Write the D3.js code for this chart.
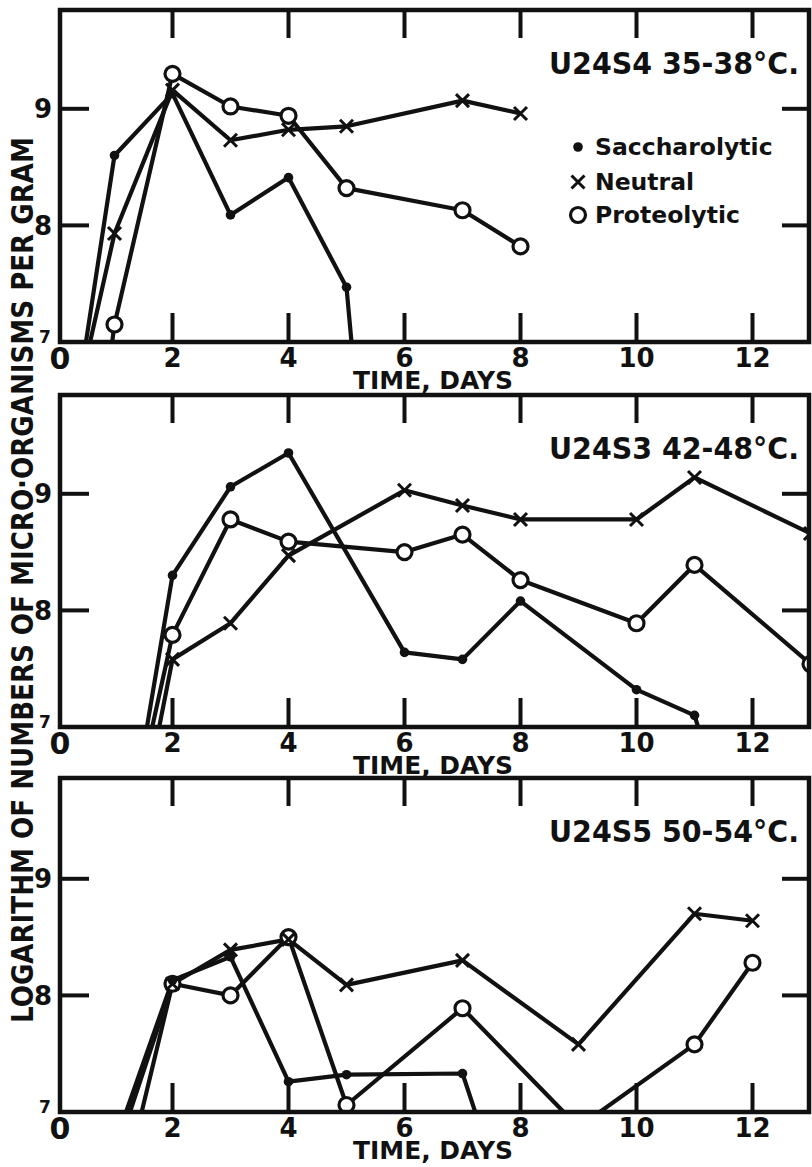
<!DOCTYPE html>
<html><head><meta charset="utf-8">
<script src="https://cdn.jsdelivr.net/npm/d3@7"></script>
<style>body{margin:0;background:#fff}</style>
</head><body>
<svg id="c" width="812" height="1167"></svg>
<script>
// ---- data ----
const panelTitles = ["U24S4 35-38°C.", "U24S3 42-48°C.", "U24S5 50-54°C."];
const seriesNames = ["Saccharolytic", "Neutral", "Proteolytic"];
const xTickValues = [2, 4, 6, 8, 10, 12];
const xLabelValues = [0, 2, 4, 6, 8, 10, 12];
const xLabelTexts = ["0", "2", "4", "6", "8", "10", "12"];
const yTickValues = [8, 9];
const yTickTexts = ["8", "9"];
const yBaseText = "7";
const xTitle = "TIME, DAYS";
const yTitle = "LOGARITHM OF NUMBERS OF MICRO·ORGANISMS PER GRAM";

// Panel 1: U24S4
const p1SacDays = [0, 1, 2, 3, 4, 5, 6];
const p1SacVals = [5.35, 8.60, 9.13, 8.09, 8.41, 7.47, 2.0];
const p1NeuDays = [0, 1, 2, 3, 4, 5, 7, 8];
const p1NeuVals = [5.72, 7.93, 9.16, 8.73, 8.82, 8.85, 9.07, 8.96];
const p1ProDays = [0, 1, 2, 3, 4, 5, 7, 8];
const p1ProVals = [3.4, 7.15, 9.30, 9.02, 8.94, 8.32, 8.13, 7.82];
// Panel 2: U24S3
const p2SacDays = [1, 2, 3, 4, 6, 7, 8, 10, 11, 12];
const p2SacVals = [5.35, 8.30, 9.06, 9.35, 7.64, 7.58, 8.08, 7.32, 7.10, 5.5];
const p2NeuDays = [1, 2, 3, 4, 6, 7, 8, 10, 11, 13];
const p2NeuVals = [5.05, 7.58, 7.89, 8.47, 9.03, 8.90, 8.78, 8.78, 9.14, 8.66];
const p2ProDays = [1, 2, 3, 4, 6, 7, 8, 10, 11, 13];
const p2ProVals = [5.53, 7.79, 8.78, 8.59, 8.50, 8.65, 8.26, 7.89, 8.39, 7.54];
// Panel 3: U24S5
const p3SacDays = [1, 2, 3, 4, 5, 7, 8];
const p3SacVals = [6.72, 8.13, 8.33, 7.26, 7.32, 7.33, 5.83];
const p3NeuDays = [1, 2, 3, 4, 5, 7, 9, 11, 12];
const p3NeuVals = [6.6, 8.10, 8.39, 8.48, 8.09, 8.30, 7.58, 8.70, 8.64];
const p3ProDays = [1, 2, 3, 4, 5, 7, 9, 11, 12];
const p3ProVals = [6.03, 8.10, 8.00, 8.50, 7.06, 7.89, 6.87, 7.58, 8.28];

// ---- layout ----
const FONT = "'DejaVu Sans', sans-serif";
const INK = "#111";
const plotLeft = 60, plotRight = 809;
const panelTops = [10, 395, 778];
const panelBottoms = [342, 727, 1112];
const unitPx = 116.6;

const x = d3.scaleLinear().domain([0, 13]).range([56.5, 810.5]);
const svg = d3.select("#c");
svg.append("rect").attr("width", 812).attr("height", 1167).attr("fill", "#fff");

const zip = (ds, vs) => ds.map((d, i) => ({d, v: vs[i]}));
const panels = [
  [zip(p1SacDays, p1SacVals), zip(p1NeuDays, p1NeuVals), zip(p1ProDays, p1ProVals)],
  [zip(p2SacDays, p2SacVals), zip(p2NeuDays, p2NeuVals), zip(p2ProDays, p2ProVals)],
  [zip(p3SacDays, p3SacVals), zip(p3NeuDays, p3NeuVals), zip(p3ProDays, p3ProVals)]
];

function drawMarker(g, type, cx, cy) {
  if (type === 0) {
    g.append("circle").attr("cx", cx).attr("cy", cy).attr("r", 4.8).attr("fill", INK);
  } else if (type === 1) {
    const s = 6.5;
    g.append("path")
      .attr("d", `M${cx - s},${cy - s}L${cx + s},${cy + s}M${cx - s},${cy + s}L${cx + s},${cy - s}`)
      .attr("stroke", INK).attr("stroke-width", 3).attr("fill", "none");
  } else {
    g.append("circle").attr("cx", cx).attr("cy", cy).attr("r", 7.5)
      .attr("fill", "#fff").attr("stroke", INK).attr("stroke-width", 3.2);
  }
}

panels.forEach((series, pi) => {
  const top = panelTops[pi], bottom = panelBottoms[pi];
  const y = d3.scaleLinear().domain([7, 9]).range([bottom, bottom - 2 * unitPx]);
  const g = svg.append("g");

  const clipId = "clip" + pi, clipMId = "clipm" + pi;
  const defs = svg.append("defs");
  defs.append("clipPath").attr("id", clipId).append("rect")
    .attr("x", plotLeft).attr("y", top).attr("width", plotRight - plotLeft).attr("height", bottom - top);
  defs.append("clipPath").attr("id", clipMId).append("rect")
    .attr("x", plotLeft).attr("y", top - 12).attr("width", plotRight - plotLeft).attr("height", bottom - top + 24);

  const line = d3.line().x(p => x(p.d)).y(p => y(p.v));
  const lg = g.append("g").attr("clip-path", `url(#${clipId})`);
  series.forEach(s => {
    lg.append("path").attr("d", line(s)).attr("fill", "none")
      .attr("stroke", INK).attr("stroke-width", 4.2).attr("stroke-linejoin", "round");
  });
  const mg = g.append("g").attr("clip-path", `url(#${clipMId})`);
  [2, 1, 0].forEach(si => {
    series[si].filter(p => p.v >= 6.97).forEach(p => drawMarker(mg, si, x(p.d), y(p.v)));
  });

  // frame
  g.append("rect").attr("x", plotLeft).attr("y", top)
    .attr("width", plotRight - plotLeft).attr("height", bottom - top)
    .attr("fill", "none").attr("stroke", INK).attr("stroke-width", 4.5);

  // x ticks (top and bottom, inward)
  xTickValues.forEach(d => {
    g.append("line").attr("x1", x(d)).attr("x2", x(d)).attr("y1", top).attr("y2", top + 28)
      .attr("stroke", INK).attr("stroke-width", 4);
    g.append("line").attr("x1", x(d)).attr("x2", x(d)).attr("y1", bottom - 29).attr("y2", bottom)
      .attr("stroke", INK).attr("stroke-width", 4);
  });
  // y ticks (left and right, inward)
  yTickValues.forEach(v => {
    g.append("line").attr("x1", plotLeft).attr("x2", plotLeft + 29).attr("y1", y(v)).attr("y2", y(v))
      .attr("stroke", INK).attr("stroke-width", 4);
    g.append("line").attr("x1", plotRight - 27).attr("x2", plotRight).attr("y1", y(v)).attr("y2", y(v))
      .attr("stroke", INK).attr("stroke-width", 4);
  });

  // x tick labels
  xLabelValues.forEach((d, i) => {
    g.append("text").attr("x", d === 0 ? plotLeft : x(d)).attr("y", bottom + (d === 0 ? 27 : 25))
      .attr("text-anchor", "middle").attr("font-family", FONT).attr("font-weight", "bold")
      .attr("font-size", d === 0 ? 30 : 26).attr("fill", INK).text(xLabelTexts[i]);
  });
  // y tick labels
  yTickValues.forEach((v, i) => {
    g.append("text").attr("x", 43).attr("y", y(v) + 9.5)
      .attr("text-anchor", "middle")
      .attr("font-family", FONT).attr("font-weight", "bold").attr("font-size", 26)
      .attr("fill", INK).text(yTickTexts[i]);
  });
  g.append("text").attr("x", 45).attr("y", bottom + 1).attr("text-anchor", "middle")
    .attr("font-family", FONT).attr("font-weight", "bold").attr("font-size", 17)
    .attr("fill", INK).text(yBaseText);

  // x title
  g.append("text").attr("x", 433).attr("y", bottom + 47).attr("text-anchor", "middle")
    .attr("font-family", FONT).attr("font-weight", "bold").attr("font-size", 24.5)
    .attr("textLength", 160).attr("lengthAdjust", "spacingAndGlyphs")
    .attr("fill", INK).text(xTitle);

  // panel title
  g.append("text").attr("x", 799).attr("y", top + 64).attr("text-anchor", "end")
    .attr("font-family", FONT).attr("font-weight", "bold").attr("font-size", 30)
    .attr("textLength", 250).attr("lengthAdjust", "spacingAndGlyphs")
    .attr("fill", INK).text(panelTitles[pi]);

  // legend (first panel)
  if (pi === 0) {
    const legBase = [155, 190, 223];
    seriesNames.forEach((n, si) => {
      drawMarker(g, si, 578, legBase[si] - 8);
      g.append("text").attr("x", 595).attr("y", legBase[si])
        .attr("font-family", FONT).attr("font-weight", "bold").attr("font-size", 23.5)
        .attr("fill", INK).text(n);
    });
  }
});

// y axis title
svg.append("text").attr("transform", "translate(33,580) rotate(-90)")
  .attr("text-anchor", "middle").attr("font-family", FONT).attr("font-weight", "bold")
  .attr("font-size", 30).attr("textLength", 886).attr("lengthAdjust", "spacingAndGlyphs")
  .attr("fill", INK).text(yTitle);
</script>
</body></html>
